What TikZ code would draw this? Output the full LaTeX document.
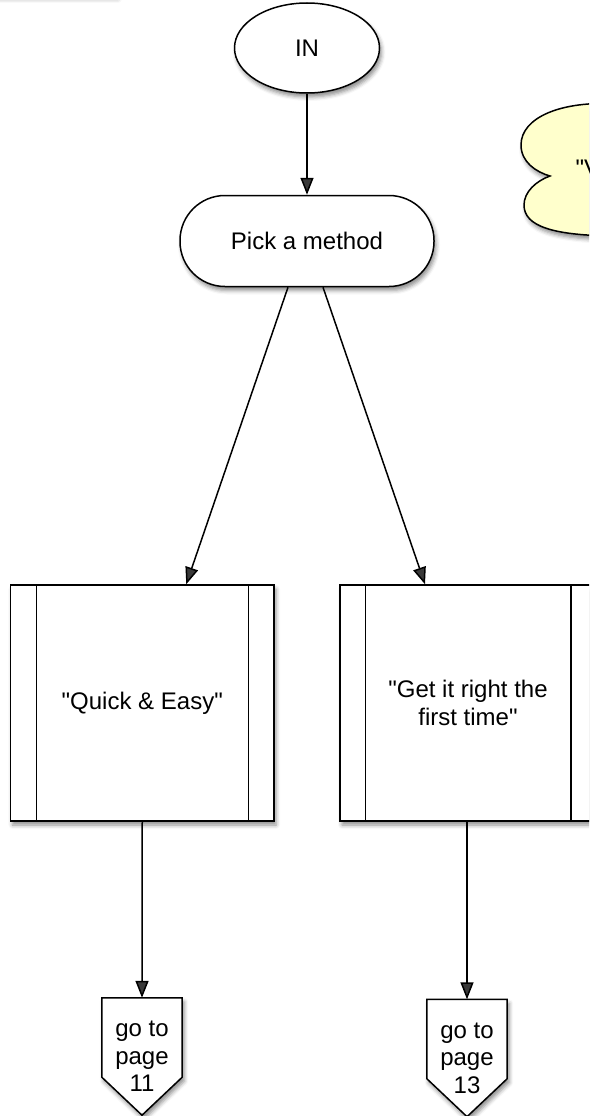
\documentclass[tikz,border=0pt]{standalone}
\usepackage{fontspec}
\setmainfont{Liberation Sans}[Ligatures=TeXOff]
\usetikzlibrary{arrows.meta,shapes.geometric,shadows.blur,calc}
\definecolor{notefill}{RGB}{255,255,204}
\tikzset{
  every node/.style={font=\fontsize{24}{27.5}\selectfont},
  shade/.style={blur shadow={shadow xshift=2pt,shadow yshift=-4pt,shadow blur radius=4pt,shadow opacity=45}},
  outline/.style={draw=black,line width=1.5pt,fill=white,shade},
  startnode/.style={outline,ellipse,minimum width=145pt,minimum height=90pt,inner sep=0pt},
  termbox/.style={outline,rounded corners=45pt,minimum width=254pt,minimum height=91pt},
  procbox/.style={outline,rectangle,minimum width=263.5pt,minimum height=236pt,align=center},
  pagebox/.style={minimum width=80pt,minimum height=117pt,inner sep=0pt,align=center},
  link/.style={line width=1.5pt,-{Triangle[length=17pt,width=13pt]}},
  edge/.style={line width=1.5pt}
}
\begin{document}
\begin{tikzpicture}[x=1pt,y=-1pt]
\useasboundingbox (0,0) rectangle (589,1116);
\clip (0,0) rectangle (589,1116);

% shadow of a panel just above the page edge
\path[fill=white,blur shadow={shadow xshift=0pt,shadow yshift=-2pt,shadow blur radius=4pt,shadow opacity=35}] (-30,-60) rectangle (118,-3);

% note cloud on the right
\path[draw=black,line width=1.5pt,fill=notefill,shade]
  (620,104) .. controls (560,100) and (521,118) .. (521,145)
  .. controls (521,162) and (536,172) .. (550,176)
  .. controls (536,181) and (524,192) .. (524,205)
  .. controls (524,226) and (552,236) .. (620,236) -- cycle;
\node[anchor=west] (note) at (572,168) {"V};

% flow nodes
\node[startnode] (in) at (307,48) {IN};
\node[termbox] (pick) at (307,241) {Pick a method};
\node[procbox] (quick) at (142.25,703) {"Quick \& Easy"};
\node[procbox,minimum width=256pt] (right) at (468,703) {"Get it right the\\first time"};

% side bars of the process boxes
\draw[edge] ([xshift=26.5pt]quick.north west) -- ([xshift=26.5pt]quick.south west);
\draw[edge] ([xshift=-26.5pt]quick.north east) -- ([xshift=-26.5pt]quick.south east);
\draw[edge] ([xshift=26pt]right.north west) -- ([xshift=26pt]right.south west);
\draw[edge] ([xshift=-26pt]right.north east) -- ([xshift=-26pt]right.south east);

% off-page connectors
\node[pagebox] (p11) at (142,1056.5) {};
\node[pagebox] (p13) at (467,1058) {};
\path[draw=black,line width=1.5pt,fill=white,shade]
  (p11.north west) -- (p11.north east) -- ([yshift=38pt]p11.south east)
  -- (p11.south) -- ([yshift=38pt]p11.south west) -- cycle;
\path[draw=black,line width=1.5pt,fill=white,shade]
  (p13.north west) -- (p13.north east) -- ([yshift=38pt]p13.south east)
  -- (p13.south) -- ([yshift=38pt]p13.south west) -- cycle;
\node[align=center] at (p11) {go to\\page\\11};
\node[align=center] at (p13) {go to\\page\\13};

% connectors
\draw[link] (in.south) -- (pick.north);
\draw[link] ([xshift=-19pt]pick.south) -- ([xshift=44pt]quick.north);
\draw[link] ([xshift=16pt]pick.south) -- ([xshift=-43pt]right.north);
\draw[link] (quick.south) -- (p11.north);
\draw[link] (right.south -| p13.north) -- (p13.north);
\end{tikzpicture}
\end{document}
